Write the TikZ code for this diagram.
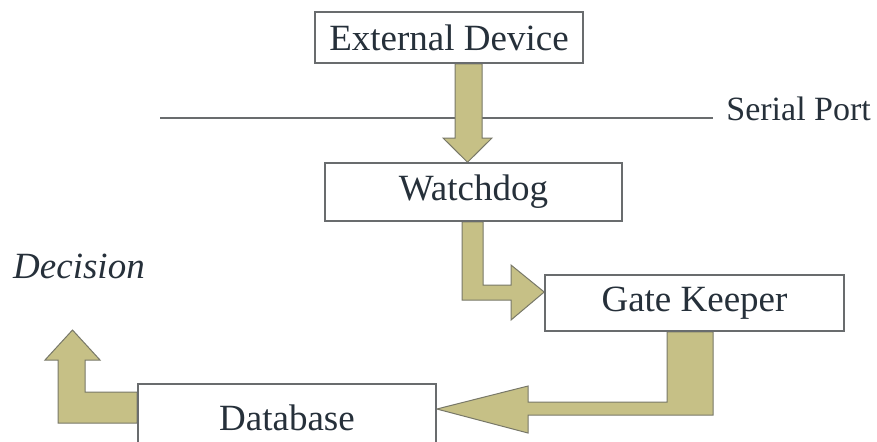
\documentclass[tikz,border=0pt]{standalone}
\usepackage{fontspec}
\setmainfont{Liberation Serif}
\usepackage{xcolor}
\usepackage{tikz}
\usetikzlibrary{positioning,backgrounds}

\definecolor{khaki}{RGB}{198,192,134}
\definecolor{khakiedge}{RGB}{120,120,104}
\definecolor{boxedge}{RGB}{105,108,110}
\definecolor{inktext}{RGB}{38,48,58}

\begin{document}
\begin{tikzpicture}[x=0.5pt,y=-0.5pt,
    box/.style={draw=boxedge,line width=0.8pt,fill=white,inner sep=0pt,
      text=inktext,font=\fontsize{18.5}{20}\selectfont},
    blockarrow/.style={fill=khaki,draw=khakiedge,line width=0.5pt,line join=miter},
    label/.style={inner sep=0pt,text=inktext,font=\fontsize{18.5}{20}\selectfont}]
\clip (0,0) rectangle (877,441);
% boxes
\node (ext) [box,minimum width=134pt,minimum height=25.5pt] at (449,37.5) {External Device};
\node (wd)  [box,minimum width=148.5pt,minimum height=29pt] at (473.5,192) {Watchdog};
\node (gk)  [box,minimum width=149.5pt,minimum height=28pt] at (694.5,303) {Gate Keeper};
\node (db)  [box,minimum width=149pt,minimum height=34pt] at (287,418) {Database};
\node (dec) [label,font=\fontsize{18.5}{20}\selectfont\itshape] at (79,266) {Decision};
\node (serial) [label,anchor=west,font=\fontsize{17}{19}\selectfont] at (726,109) {Serial Port};
\coordinate (portend) at (160,118);
% arrows
\begin{scope}[on background layer]
\draw[boxedge,line width=0.6pt] (portend) -- (portend -| 713,0);
\draw[blockarrow] (455,0 |- ext.south) -- (455,138) -- (443,138) -- (467.5,0 |- wd.north)
    -- (492,138) -- (482,138) -- (482,0 |- ext.south) -- cycle;
\draw[blockarrow] (462,0 |- wd.south) -- (462,300) -- (511,300) -- (511,320) -- (gk.west |- 0,292)
    -- (511,265) -- (511,285) -- (483,285) -- (483,0 |- wd.south) -- cycle;
\draw[blockarrow] (667,0 |- gk.south) -- (667,402) -- (528,402) -- (528,386) -- (db.east |- 0,409)
    -- (528,433) -- (528,415) -- (713,415) -- (713,0 |- gk.south) -- cycle;
\draw[blockarrow] (db.west |- 0,392) -- (85,392) -- (85,360) -- (100,360) -- (72.5,330)
    -- (45,360) -- (58,360) -- (58,423) -- (db.west |- 0,423) -- cycle;
\end{scope}
\end{tikzpicture}
\end{document}
